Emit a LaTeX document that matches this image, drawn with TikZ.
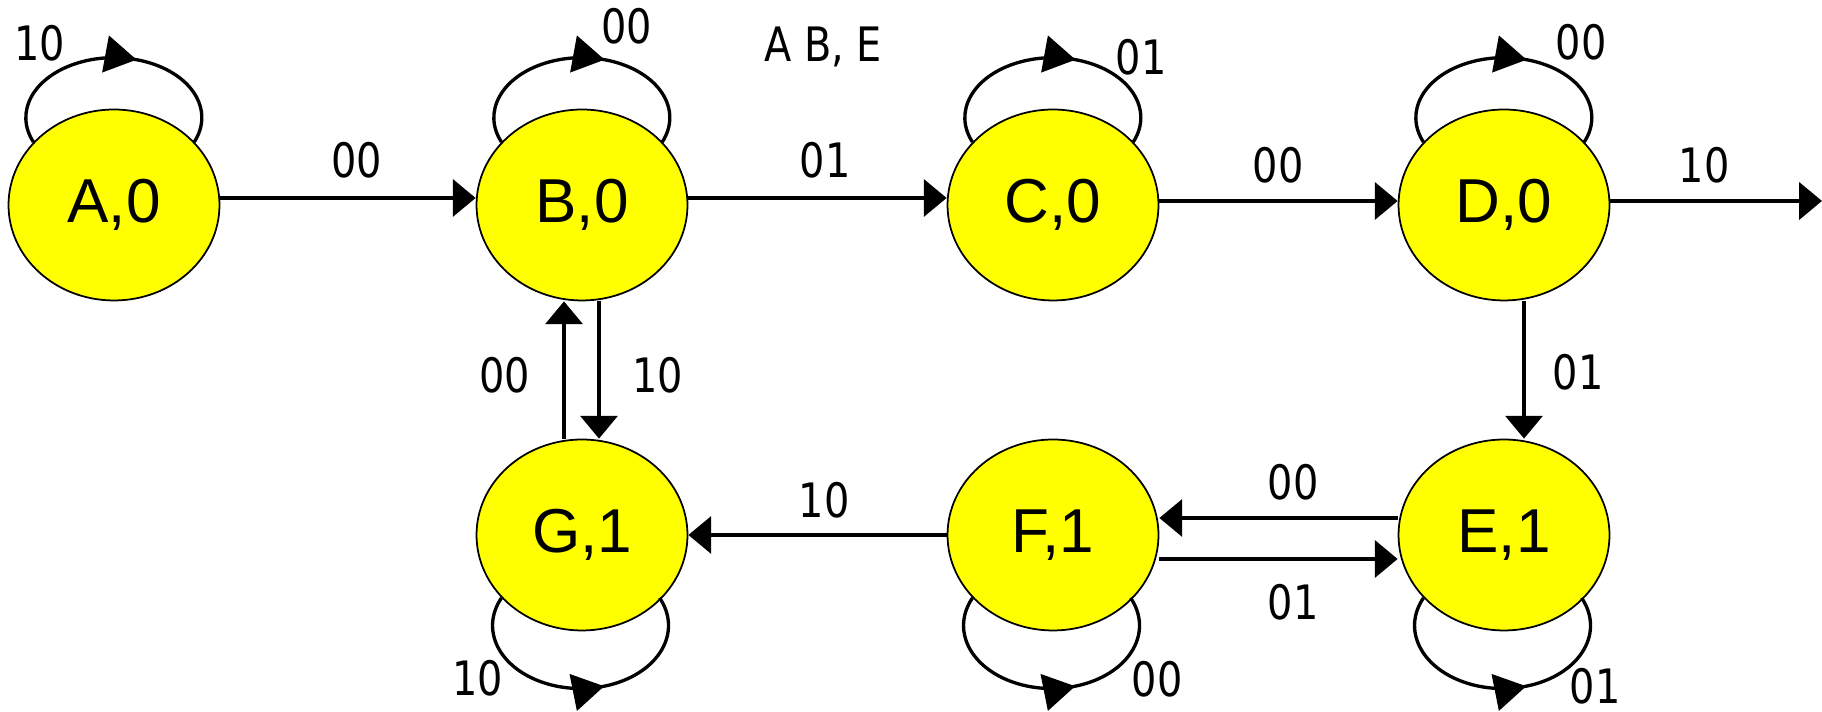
\documentclass[tikz,border=0pt]{standalone}
\usepackage{fontspec}
\usetikzlibrary{shapes.geometric,arrows.meta,decorations.markings,calc}

\newfontfamily\statefam{Liberation Sans}
\newfontfamily\lblfam[FakeStretch=0.84]{DejaVu Sans}
\newcommand\statetext{\statefam\fontsize{35.3pt}{42pt}\selectfont}
\newcommand\lbltext{\lblfam\fontsize{27pt}{32pt}\selectfont}
\definecolor{stateyellow}{RGB}{255,255,0}

\begin{document}
\begin{tikzpicture}[
		x=0.02cm, y=0.02cm,
		state/.style = {draw, ellipse, fill=stateyellow, line width=1pt, inner sep=0pt,
			minimum width=4.22cm, minimum height=3.82cm, font=\statetext},
		lbl/.style = {inner sep=0pt, font=\lbltext},
		edge/.style = {-{Triangle[width=21pt,length=13pt]}, line width=2.3pt},
		loopmark/.style = {line width=1.9pt, postaction={decorate},
			decoration={markings, mark=at position 0.58 with {\arrow{Triangle[width=21pt,length=18pt]}}}},
		]
		\useasboundingbox (0,0) rectangle (1822,712);
		
		% states, top row
		\node[state] (A) at (114,507) {A,0};
		\node[state] (B) at (582,507) {B,0};
		\node[state] (C) at (1053,507) {C,0};
		\node[state] (D) at (1504,507) {D,0};
		% states, bottom row
		\node[state] (G) at (582,177) {G,1};
		\node[state] (F) at (1053,177) {F,1};
		\node[state] (E) at (1504,177) {E,1};
		
		\coordinate (exitD) at (1822,511);
		
		% self loops above and below the states
		\foreach \s in {A,B,C,D}
		\draw[loopmark] (\s.142) arc[start angle=204, end angle=-24, x radius=1.76cm, y radius=1.2cm];
		
		\foreach \s in {G,F,E}
		\draw[loopmark] (\s.218) arc[start angle=154, end angle=386, x radius=1.76cm, y radius=1.26cm];
		
		% transitions
		\draw[edge] ($(A.east)+(0,7)$) -- ($(B.west)+(0,7)$);
		\draw[edge] ($(B.east)+(0,7)$) -- ($(C.west)+(0,7)$);
		\draw[edge] ($(C.east)+(0,4)$) -- ($(D.west)+(0,4)$);
		\draw[edge] (D.east |- exitD) -- (exitD);
		\draw[edge] ($(B.south)+(17,0)$) -- ($(G.north)+(17,0)$);
		\draw[edge] ($(G.north)+(-18,0)$) -- ($(B.south)+(-18,0)$);
		\draw[edge] ($(D.south)+(20,0)$) -- ($(E.north)+(20,0)$);
		\draw[edge] ($(E.west)+(0,17)$) -- ($(F.east)+(0,17)$);
		\draw[edge] ($(F.east)+(0,-24)$) -- ($(E.west)+(0,-24)$);
		\draw[edge] (F.west) -- (G.east);
		
		% labels
		\node[lbl] (lA) at (40,669) {10};
		\node[lbl] (lB) at (627,686) {00};
		\node[lbl] (lC) at (1141,655) {01};
		\node[lbl] (lD) at (1581,670) {00};
		\node[lbl] (lG) at (478,34) {10};
		\node[lbl] (lF) at (1157,33) {00};
		\node[lbl] (lE) at (1595,26) {01};
		\node[lbl] (lAB) at (357,552) {00};
		\node[lbl] (lBC) at (825,552) {01};
		\node[lbl] (lCD) at (1278,547) {00};
		\node[lbl] (lDx) at (1704,547) {10};
		\node[lbl] (lGB) at (505,337) {00};
		\node[lbl] (lBG) at (658,337) {10};
		\node[lbl] (lDE) at (1578,340) {01};
		\node[lbl] (lFG) at (824,212) {10};
		\node[lbl] (lEF) at (1293,230) {00};
		\node[lbl] (lFE) at (1293,110) {01};
		\node[lbl, anchor=base] (note) at (823,650) {A B, E};
\end{tikzpicture}
\end{document}
